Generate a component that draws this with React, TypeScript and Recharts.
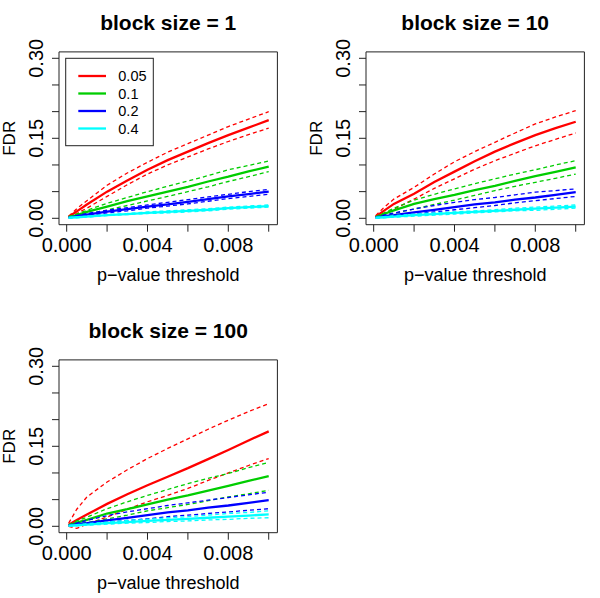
import { LineChart, Line, XAxis, YAxis, ReferenceArea } from "recharts";

// p-value thresholds where FDR was estimated
const pThresh = [0.0001, 0.0005, 0.001, 0.002, 0.003, 0.004, 0.005, 0.006, 0.007, 0.008, 0.009, 0.01];
const levels = ["0.05", "0.1", "0.2", "0.4"];
const colors = ["#ff0000", "#00cd00", "#0000ff", "#00ffff"];
const xTicks = [0, 0.002, 0.004, 0.006, 0.008, 0.01];
const xLabelled = [0, 0.004, 0.008];
const yTicks = [0, 0.05, 0.1, 0.15, 0.2, 0.25, 0.3];
const yLabelled = [0, 0.15, 0.3];

// block size = 1
const b1Red = [0.003, 0.013, 0.026, 0.05, 0.071, 0.091, 0.109, 0.125, 0.141, 0.156, 0.17, 0.184];
const b1RedHi = [0.004, 0.018, 0.033, 0.062, 0.085, 0.105, 0.124, 0.14, 0.156, 0.172, 0.186, 0.2];
const b1RedLo = [0.002, 0.009, 0.019, 0.041, 0.063, 0.083, 0.1, 0.115, 0.13, 0.144, 0.157, 0.169];
const b1Green = [0.002, 0.006, 0.012, 0.022, 0.032, 0.041, 0.05, 0.059, 0.069, 0.078, 0.088, 0.097];
const b1GreenHi = [0.003, 0.008, 0.015, 0.028, 0.039, 0.05, 0.06, 0.07, 0.08, 0.091, 0.099, 0.1075];
const b1GreenLo = [0.001, 0.004, 0.008, 0.0156, 0.024, 0.0325, 0.041, 0.05, 0.059, 0.069, 0.078, 0.0875];
const b1Blue = [0.001, 0.004, 0.007, 0.0125, 0.017, 0.022, 0.026, 0.031, 0.036, 0.041, 0.0455, 0.05];
const b1BlueHi = [0.002, 0.005, 0.009, 0.015, 0.02, 0.025, 0.03, 0.035, 0.04, 0.045, 0.05, 0.054];
const b1BlueLo = [0.001, 0.003, 0.005, 0.01, 0.014, 0.019, 0.023, 0.027, 0.032, 0.037, 0.041, 0.045];
const b1Cyan = [0.001, 0.002, 0.003, 0.006, 0.008, 0.01, 0.012, 0.014, 0.016, 0.019, 0.021, 0.023];
const b1CyanHi = [0.001, 0.003, 0.004, 0.007, 0.009, 0.012, 0.014, 0.016, 0.018, 0.021, 0.023, 0.025];
const b1CyanLo = [0.0005, 0.001, 0.002, 0.005, 0.007, 0.009, 0.01, 0.012, 0.014, 0.017, 0.019, 0.021];

// block size = 10
const b10Red = [0.003, 0.014, 0.027, 0.046, 0.068, 0.0875, 0.107, 0.125, 0.141, 0.156, 0.169, 0.181];
const b10RedHi = [0.005, 0.02, 0.036, 0.058, 0.083, 0.106, 0.125, 0.1425, 0.16, 0.177, 0.19, 0.202];
const b10RedLo = [0.002, 0.008, 0.017, 0.036, 0.056, 0.074, 0.092, 0.108, 0.122, 0.136, 0.148, 0.16];
const b10Green = [0.002, 0.008, 0.015, 0.027, 0.036, 0.044, 0.053, 0.061, 0.07, 0.079, 0.087, 0.0956];
const b10GreenHi = [0.003, 0.01, 0.019, 0.034, 0.045, 0.055, 0.065, 0.074, 0.083, 0.091, 0.1, 0.108];
const b10GreenLo = [0.001, 0.004, 0.009, 0.0175, 0.026, 0.034, 0.043, 0.052, 0.06, 0.0675, 0.075, 0.083];
const b10Blue = [0.001, 0.004, 0.006, 0.011, 0.016, 0.021, 0.026, 0.03, 0.035, 0.039, 0.044, 0.049];
const b10BlueHi = [0.002, 0.006, 0.01, 0.0175, 0.024, 0.03, 0.035, 0.039, 0.044, 0.049, 0.052, 0.055];
const b10BlueLo = [0.0005, 0.002, 0.004, 0.008, 0.012, 0.016, 0.02, 0.024, 0.029, 0.033, 0.037, 0.041];
const b10Cyan = [0.001, 0.002, 0.003, 0.006, 0.008, 0.01, 0.012, 0.014, 0.016, 0.018, 0.02, 0.022];
const b10CyanHi = [0.001, 0.003, 0.005, 0.008, 0.01, 0.012, 0.014, 0.016, 0.019, 0.021, 0.023, 0.025];
const b10CyanLo = [0.0005, 0.001, 0.002, 0.004, 0.006, 0.008, 0.01, 0.012, 0.014, 0.015, 0.017, 0.019];

// block size = 100
const b100Red = [0.003, 0.012, 0.022, 0.042, 0.06, 0.077, 0.093, 0.109, 0.126, 0.143, 0.161, 0.178];
const b100RedHi = [0.006, 0.032, 0.055, 0.083, 0.106, 0.127, 0.146, 0.164, 0.182, 0.199, 0.215, 0.23];
const b100RedLo = [0, -0.004, 0.004, 0.0175, 0.032, 0.046, 0.058, 0.071, 0.086, 0.1, 0.114, 0.127];
const b100Green = [0.002, 0.007, 0.012, 0.024, 0.032, 0.041, 0.05, 0.058, 0.067, 0.076, 0.085, 0.094];
const b100GreenHi = [0.003, 0.01, 0.017, 0.033, 0.046, 0.058, 0.069, 0.08, 0.09, 0.099, 0.11, 0.12];
const b100GreenLo = [0.001, 0.004, 0.007, 0.014, 0.021, 0.029, 0.035, 0.041, 0.048, 0.055, 0.061, 0.0675];
const b100Blue = [0.001, 0.004, 0.006, 0.011, 0.016, 0.021, 0.026, 0.03, 0.035, 0.039, 0.044, 0.049];
const b100BlueHi = [0.002, 0.006, 0.011, 0.02, 0.027, 0.033, 0.039, 0.044, 0.049, 0.054, 0.059, 0.064];
const b100BlueLo = [0.0005, 0.002, 0.004, 0.008, 0.011, 0.014, 0.018, 0.021, 0.024, 0.027, 0.03, 0.033];
const b100Cyan = [0.001, 0.002, 0.003, 0.006, 0.008, 0.01, 0.012, 0.014, 0.016, 0.018, 0.02, 0.0225];
const b100CyanHi = [0.001, 0.003, 0.005, 0.008, 0.011, 0.013, 0.016, 0.018, 0.021, 0.024, 0.026, 0.029];
const b100CyanLo = [0.0005, 0.001, 0.002, 0.004, 0.006, 0.007, 0.009, 0.01, 0.012, 0.013, 0.015, 0.016];

const FONT = "'Liberation Sans', Arial, Helvetica, sans-serif";
const W = 293;
const H = 300;
// plot box inside each panel (R's par(mfrow) layout)
const BOX_L = 59;
const BOX_R = 277.4;
const BOX_T = 51.9;
const BOX_B = 224.7;
const X_DOM = [-0.00038, 0.01043];
const Y_DOM = [-0.012, 0.312];
const CX = (BOX_L + BOX_R) / 2;
const CY = (BOX_T + BOX_B) / 2;

const buildRows = (series: number[][][]) =>
  pThresh.map((p, i) => {
    const row: any = { p };
    series.forEach((s, k) => {
      row[`m${k}`] = s[0][i];
      row[`h${k}`] = s[1][i];
      row[`l${k}`] = s[2][i];
    });
    return row;
  });

const XTick = ({ x, y, payload }: any) =>
  xLabelled.includes(payload.value) ? (
    <text x={x} y={y + 20.3} textAnchor="middle" fontSize={20} fontFamily={FONT} fill="#000">
      {payload.value.toFixed(3)}
    </text>
  ) : (
    <g />
  );

const YTick = ({ x, y, payload }: any) =>
  yLabelled.includes(payload.value) ? (
    <text
      x={x - 8.7}
      y={y}
      transform={`rotate(-90 ${x - 8.7} ${y})`}
      textAnchor="middle"
      fontSize={20}
      fontFamily={FONT}
      fill="#000"
    >
      {payload.value.toFixed(2)}
    </text>
  ) : (
    <g />
  );

const Legend1 = () => (
  <g transform="translate(65.7 58.3)">
    <rect x={0} y={0} width={87.6} height={87.4} fill="#fff" stroke="#222" strokeWidth={1} />
    {levels.map((lv, i) => (
      <g key={lv}>
        <line x1={12.6} x2={40.3} y1={17.7 + i * 17.5} y2={17.7 + i * 17.5} stroke={colors[i]} strokeWidth={2.3} />
        <text x={52.6} y={17.7 + i * 17.5 + 5.2} fontSize={14.5} fontFamily={FONT} fill="#000">
          {lv}
        </text>
      </g>
    ))}
  </g>
);

const Panel = ({ title, left, top, series, legend }: any) => {
  const rows = buildRows(series);
  return (
    <div style={{ position: "absolute", left, top, width: W, height: H }}>
      <LineChart
        width={W}
        height={H}
        data={rows}
        margin={{ top: BOX_T, right: W - BOX_R, bottom: 0, left: 0 }}
      >
        <XAxis
          type="number"
          dataKey="p"
          domain={X_DOM}
          allowDataOverflow
          ticks={xTicks}
          interval={0}
          tick={(props: any) => <XTick {...props} />}
          tickSize={7}
          tickMargin={0}
          tickLine={{ stroke: "#222" }}
          axisLine={false}
          height={H - BOX_B}
        />
        <YAxis
          type="number"
          domain={Y_DOM}
          allowDataOverflow
          ticks={yTicks}
          interval={0}
          tick={(props: any) => <YTick {...props} />}
          tickSize={7}
          tickMargin={0}
          tickLine={{ stroke: "#222" }}
          axisLine={false}
          width={BOX_L}
        />
        <ReferenceArea
          x1={X_DOM[0]}
          x2={X_DOM[1]}
          y1={Y_DOM[0]}
          y2={Y_DOM[1]}
          fill="none"
          fillOpacity={0}
          stroke="#222"
          strokeWidth={1}
        />
        {colors.map((c, k) => [
          <Line
            key={`h${k}`}
            type="linear"
            dataKey={`h${k}`}
            stroke={c}
            strokeWidth={1.3}
            strokeDasharray="4 3"
            dot={false}
            activeDot={false}
            isAnimationActive={false}
          />,
          <Line
            key={`l${k}`}
            type="linear"
            dataKey={`l${k}`}
            stroke={c}
            strokeWidth={1.3}
            strokeDasharray="4 3"
            dot={false}
            activeDot={false}
            isAnimationActive={false}
          />,
          <Line
            key={`m${k}`}
            type="linear"
            dataKey={`m${k}`}
            stroke={c}
            strokeWidth={2.3}
            dot={false}
            activeDot={false}
            isAnimationActive={false}
          />,
        ])}
      </LineChart>
      <svg
        width={W}
        height={H}
        style={{ position: "absolute", left: 0, top: 0, pointerEvents: "none" }}
      >
        <text x={CX} y={30} textAnchor="middle" fontSize={21} fontWeight="bold" fontFamily={FONT} fill="#000">
          {title}
        </text>
        <text
          x={15.5}
          y={CY}
          transform={`rotate(-90 15.5 ${CY})`}
          textAnchor="middle"
          fontSize={17}
          fontFamily={FONT}
          fill="#000"
        >
          FDR
        </text>
        <text x={CX} y={280.5} textAnchor="middle" fontSize={18} fontFamily={FONT} fill="#000">
          p−value threshold
        </text>
        {legend && <Legend1 />}
      </svg>
    </div>
  );
};

export default function App() {
  return (
    <div
      style={{
        position: "fixed",
        left: 0,
        top: 0,
        width: 600,
        height: 598,
        background: "#fff",
        overflow: "hidden",
      }}
    >
      <Panel
        title="block size = 1"
        left={0}
        top={0}
        legend
        series={[
          [b1Red, b1RedHi, b1RedLo],
          [b1Green, b1GreenHi, b1GreenLo],
          [b1Blue, b1BlueHi, b1BlueLo],
          [b1Cyan, b1CyanHi, b1CyanLo],
        ]}
      />
      <Panel
        title="block size = 10"
        left={306.6}
        top={0}
        series={[
          [b10Red, b10RedHi, b10RedLo],
          [b10Green, b10GreenHi, b10GreenLo],
          [b10Blue, b10BlueHi, b10BlueLo],
          [b10Cyan, b10CyanHi, b10CyanLo],
        ]}
      />
      <Panel
        title="block size = 100"
        left={0}
        top={307.7}
        series={[
          [b100Red, b100RedHi, b100RedLo],
          [b100Green, b100GreenHi, b100GreenLo],
          [b100Blue, b100BlueHi, b100BlueLo],
          [b100Cyan, b100CyanHi, b100CyanLo],
        ]}
      />
    </div>
  );
}
